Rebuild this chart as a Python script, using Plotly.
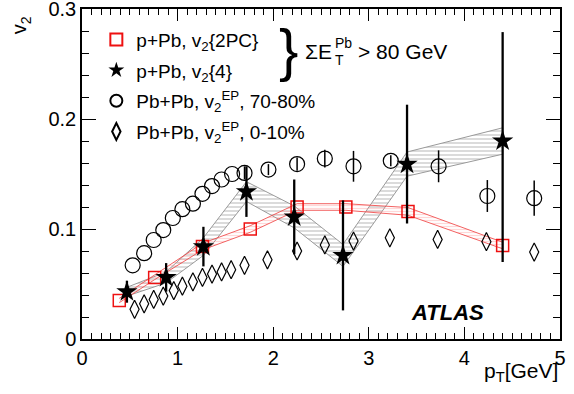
import plotly.graph_objects as go

# p+Pb v2{2PC}
pc_x = [0.39, 0.76, 1.26, 1.76, 2.25, 2.76, 3.41, 4.40]
pc_y = [0.035, 0.056, 0.084, 0.100, 0.120, 0.120, 0.116, 0.085]
pc_sys = [0.002, 0.002, 0.003, 0.003, 0.003, 0.003, 0.0035, 0.003]

# p+Pb v2{4}
c4_x = [0.47, 0.88, 1.27, 1.72, 2.22, 2.73, 3.40, 4.40]
c4_y = [0.043, 0.056, 0.084, 0.134, 0.111, 0.076, 0.159, 0.180]
c4_err_up = [0.010, 0.013, 0.018, 0.023, 0.034, 0.050, 0.054, 0.099]
c4_err_dn = [0.010, 0.013, 0.018, 0.023, 0.034, 0.050, 0.054, 0.110]
c4_sys = [0.004, 0.005, 0.008, 0.009, 0.010, 0.010, 0.011, 0.012]

# Pb+Pb v2EP 70-80%
pp70_x = [0.53, 0.65, 0.75, 0.85, 0.95, 1.05, 1.16, 1.26, 1.36, 1.46, 1.57, 1.70,
          1.95, 2.25, 2.54, 2.84, 3.23, 3.73, 4.24, 4.73]
pp70_y = [0.067, 0.078, 0.090, 0.099, 0.110, 0.118, 0.123, 0.132, 0.139, 0.145, 0.150, 0.151,
          0.154, 0.159, 0.164, 0.157, 0.162, 0.157, 0.130, 0.128]
pp70_err = [0, 0, 0, 0, 0, 0, 0, 0, 0, 0, 0, 0.006,
            0.005, 0.006, 0.008, 0.014, 0.005, 0.0145, 0.0145, 0.016]

# Pb+Pb v2EP 0-10%
pp0_x = [0.55, 0.65, 0.75, 0.85, 0.96, 1.05, 1.16, 1.26, 1.36, 1.46, 1.56, 1.70,
         1.94, 2.25, 2.54, 2.84, 3.22, 3.72, 4.23, 4.73]
pp0_y = [0.027, 0.032, 0.036, 0.039, 0.044, 0.048, 0.052, 0.056, 0.059, 0.061, 0.063, 0.067,
         0.072, 0.080, 0.0855, 0.089, 0.092, 0.0905, 0.0885, 0.079]

legend_labels = [
    "p+Pb, v<sub>2</sub>{2PC}",
    "p+Pb, v<sub>2</sub>{4}",
    "Pb+Pb, v<sub>2</sub><sup>EP</sup>, 70-80%",
    "Pb+Pb, v<sub>2</sub><sup>EP</sup>, 0-10%",
]

FONT = "Liberation Sans, Arial, Helvetica, sans-serif"

fig = go.Figure()

def band(xs, ys, sys):
    up = [y + s for y, s in zip(ys, sys)]
    dn = [y - s for y, s in zip(ys, sys)]
    return list(xs) + list(xs)[::-1], up + dn[::-1]

bx, by = band(c4_x, c4_y, c4_sys)
fig.add_trace(go.Scatter(x=bx, y=by, mode="lines", fill="toself",
                         line=dict(color="#9a9a9a", width=1),
                         fillcolor="rgba(0,0,0,0)",
                         fillpattern=dict(shape="-", fgcolor="#b0b0b0", bgcolor="rgba(255,255,255,0)",
                                          size=4, solidity=0.45),
                         showlegend=False, hoverinfo="skip"))

rx, ry = band(pc_x, pc_y, pc_sys)
fig.add_trace(go.Scatter(x=rx, y=ry, mode="lines", fill="toself",
                         line=dict(color="rgba(240,70,70,0.85)", width=1),
                         fillcolor="rgba(0,0,0,0)",
                         fillpattern=dict(shape="-", fgcolor="rgba(255,120,120,0.6)", bgcolor="rgba(255,255,255,0)",
                                          size=3, solidity=0.4),
                         showlegend=False, hoverinfo="skip"))

fig.add_trace(go.Scatter(x=pc_x, y=pc_y, mode="markers", name=legend_labels[0], legendgroup="a",
                         marker=dict(symbol="square-open", size=12, color="#ee1111", line=dict(width=1.5))))
fig.add_trace(go.Scatter(x=c4_x, y=c4_y, mode="markers", name=legend_labels[1], legendgroup="b",
                         marker=dict(symbol="star", size=16, color="black", line=dict(width=0)),
                         error_y=dict(type="data", symmetric=False, array=c4_err_up, arrayminus=c4_err_dn,
                                      color="black", thickness=2.3, width=0)))
fig.add_trace(go.Scatter(x=pp70_x, y=pp70_y, mode="markers", name=legend_labels[2], legendgroup="c",
                         marker=dict(symbol="circle-open", size=15, color="black", line=dict(width=1.2)),
                         error_y=dict(type="data", array=pp70_err, color="black", thickness=1.5, width=0)))
fig.add_trace(go.Scatter(x=pp0_x, y=pp0_y, mode="markers", name=legend_labels[3], legendgroup="d",
                         marker=dict(symbol="diamond-tall-open", size=13, color="black", line=dict(width=1.2))))

annotations = [
    dict(text="v<sub>2</sub>", xref="paper", yref="paper", x=-0.128, y=0.95, textangle=-90,
         showarrow=False, font=dict(size=20, family=FONT, color="black"), xanchor="center", yanchor="middle"),
    dict(text="p<sub>T</sub>[GeV]", xref="paper", yref="paper", x=1.0, y=-0.1,
         showarrow=False, font=dict(size=21, family=FONT, color="black"), xanchor="right", yanchor="middle"),
    dict(text="}", xref="paper", yref="paper", x=0.433, y=0.876,
         showarrow=False, font=dict(size=58, family=FONT, color="black"), xanchor="center", yanchor="middle"),
    dict(text="ΣE", xref="paper", yref="paper", x=0.462, y=0.870,
         showarrow=False, font=dict(size=21, family=FONT, color="black"), xanchor="left", yanchor="middle"),
    dict(text="Pb", xref="paper", yref="paper", x=0.525, y=0.897,
         showarrow=False, font=dict(size=14, family=FONT, color="black"), xanchor="left", yanchor="middle"),
    dict(text="T", xref="paper", yref="paper", x=0.525, y=0.845,
         showarrow=False, font=dict(size=14, family=FONT, color="black"), xanchor="left", yanchor="middle"),
    dict(text="> 80 GeV", xref="paper", yref="paper", x=0.573, y=0.870,
         showarrow=False, font=dict(size=21, family=FONT, color="black"), xanchor="left", yanchor="middle"),
    dict(text="<b><i>ATLAS</i></b>", xref="paper", yref="paper", x=0.765, y=0.08,
         showarrow=False, font=dict(size=22, family=FONT, color="black"), xanchor="center", yanchor="middle"),
]

axis_common = dict(showgrid=False, zeroline=False, showline=True, linecolor="black", linewidth=1.5,
                   mirror="ticks", ticks="inside", tickcolor="black", automargin=False,
                   ticklabeloverflow="allow",
                   tickfont=dict(size=20, family=FONT, color="black"))

fig.update_layout(
    width=574, height=394,
    margin=dict(l=82, r=14, t=9, b=55, autoexpand=False),
    paper_bgcolor="white", plot_bgcolor="white",
    font=dict(family=FONT, color="black"),
    xaxis=dict(range=[0, 5], tickvals=[0, 1, 2, 3, 4, 5], ticklen=12, tickwidth=1,
               minor=dict(dtick=0.1, ticklen=6, ticks="inside", tickcolor="black"), **axis_common),
    yaxis=dict(range=[0, 0.3], tickvals=[0, 0.1, 0.2, 0.3], ticktext=["0", "0.1", "0.2", "0.3"],
               ticklen=14, tickwidth=1,
               minor=dict(dtick=0.02, ticklen=7, ticks="inside", tickcolor="black"), **axis_common),
    legend=dict(x=0.03, y=0.965, xanchor="left", yanchor="top", bgcolor="rgba(0,0,0,0)",
                font=dict(size=19, family=FONT, color="black"), tracegroupgap=3,
                itemsizing="constant"),
    annotations=annotations,
    showlegend=True,
)

# remove the browser's default 8px body margin so the figure sits at the page origin
fig.write_html("out.html", config={"displayModeBar": False},
               post_script="document.body.style.margin='0';document.body.style.overflow='hidden';")
